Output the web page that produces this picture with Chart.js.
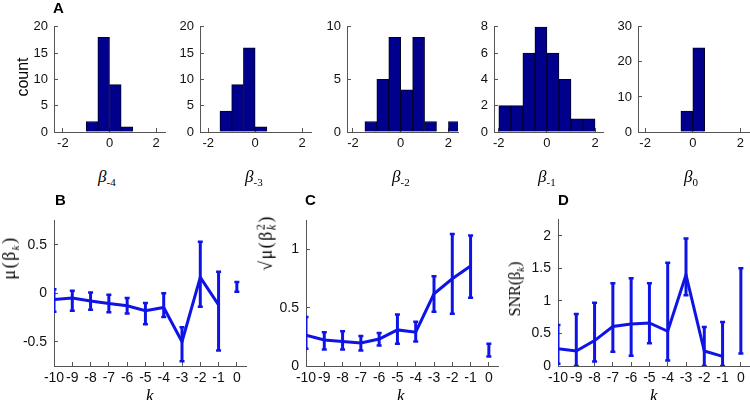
<!DOCTYPE html>
<html>
<head>
<meta charset="utf-8">
<script src="https://cdn.jsdelivr.net/npm/chart.js@4.4.0/dist/chart.umd.min.js"></script>
<style>
  body { margin: 0; width: 750px; height: 400px; overflow: hidden; position: relative; background: #fff; }
  canvas { position: absolute; }
  .lbl { position: absolute; white-space: nowrap; color: #000; line-height: 1; z-index: 2; }
  .tag { font: bold 15px Arial, "Liberation Sans", sans-serif; }
  .serif { font-family: "Times New Roman", "Liberation Serif", serif; font-size: 17px; }
  .wide { font-size: 18px; letter-spacing: 1.5px; }
  .rot { transform: translate(-50%, -50%) rotate(-90deg); }
  .sb { font-size: 11px; position: relative; top: 4px; }
  .ss { display: inline-block; vertical-align: middle; font-size: 12px; line-height: 0.95; text-align: left; }
</style>
</head>
<body>
<div class="lbl tag" style="left:53px; top:-1px;">A</div>
<div class="lbl tag" style="left:55px; top:191px;">B</div>
<div class="lbl tag" style="left:305px; top:191px;">C</div>
<div class="lbl tag" style="left:558px; top:191px;">D</div>

<div class="lbl rot" style="left:23px; top:77px; font:16px Arial, 'Liberation Sans', sans-serif;">count</div>
<div class="lbl rot serif wide" style="left:9px; top:258px;">&mu;(&beta;<span class="sb"><i>k</i></span>)</div>
<div class="lbl rot serif wide" style="left:267px; top:243px;">&radic;&mu;(&beta;<span class="ss">2<br><i>k</i></span>)</div>
<div class="lbl rot serif" style="left:515px; top:289px; font-size:16px;">SNR(&beta;<span class="sb"><i>k</i></span>)</div>

<div class="lbl serif" style="left:98px; top:168px;"><i>&beta;</i><span class="sb">-4</span></div>
<div class="lbl serif" style="left:245px; top:168px;"><i>&beta;</i><span class="sb">-3</span></div>
<div class="lbl serif" style="left:392px; top:168px;"><i>&beta;</i><span class="sb">-2</span></div>
<div class="lbl serif" style="left:538px; top:168px;"><i>&beta;</i><span class="sb">-1</span></div>
<div class="lbl serif" style="left:684px; top:168px;"><i>&beta;</i><span class="sb">0</span></div>

<div class="lbl serif" style="left:146px; top:387px;"><i>k</i></div>
<div class="lbl serif" style="left:397px; top:387px;"><i>k</i></div>
<div class="lbl serif" style="left:650px; top:387px;"><i>k</i></div>

<script>
// Panel A: histogram bin centres and counts
const binsBm4 = [-0.75, -0.25, 0.25, 0.75];
const countsBm4 = [2, 18, 9, 1];
const binsBm3 = [-1.25, -0.75, -0.25, 0.25];
const countsBm3 = [4, 9, 16, 1];
const binsBm2 = [-1.25, -0.75, -0.25, 0.25, 0.75, 1.25, 1.75, 2.25];
const countsBm2 = [1, 5, 9, 4, 9, 1, 0, 1];
const binsBm1 = [-1.75, -1.25, -0.75, -0.25, 0.25, 0.75, 1.25, 1.75];
const countsBm1 = [2, 2, 6, 8, 6, 4, 1, 1];
const binsB0 = [-0.25, 0.25];
const countsB0 = [6, 24];
const histTicks = [-2, 0, 2];

// Panels B-D: lag k, mean and error bar ends
const kLags = [-10, -9, -8, -7, -6, -5, -4, -3, -2, -1, 0];
const muMean = [-0.065, -0.05, -0.08, -0.105, -0.13, -0.18, -0.147, -0.50, 0.163, -0.12, null];
const muLow = [-0.19, -0.18, -0.17, -0.196, -0.21, -0.32, -0.245, -0.70, -0.14, -0.59, 0.016];
const muHigh = [0.04, 0.026, 0.007, -0.016, -0.05, -0.10, 0.0, -0.35, 0.53, 0.22, 0.115];
const rmsMean = [0.265, 0.224, 0.21, 0.197, 0.232, 0.31, 0.29, 0.62, 0.749, 0.858, null];
const rmsLow = [0.148, 0.142, 0.142, 0.134, 0.175, 0.19, 0.21, 0.465, 0.448, 0.585, 0.082];
const rmsHigh = [0.42, 0.29, 0.298, 0.257, 0.284, 0.443, 0.38, 0.77, 1.134, 1.12, 0.19];
const snrMean = [0.264, 0.23, 0.39, 0.606, 0.645, 0.66, 0.533, 1.40, 0.23, 0.147, null];
const snrLow = [0.034, 0, 0.068, 0.22, 0.156, 0.35, 0.083, 1.086, 0, 0, 0.19];
const snrHigh = [0.63, 0.80, 0.97, 1.27, 1.345, 1.27, 1.585, 1.956, 0.597, 0.675, 1.5];
const muTicks = [-0.5, 0, 0.5];
const rmsTicks = [0, 0.5, 1];
const snrTicks = [0, 0.5, 1, 1.5, 2];

const tickFont = 'Arial, "Liberation Sans", sans-serif';
const barBlue = 'rgb(0,0,140)';
const lineBlue = 'rgb(15,20,230)';

function addCanvas(area, pad) {
    const c = document.createElement('canvas');
    c.width = area.r - area.l + pad.l + pad.r;
    c.height = area.b - area.t + pad.t + pad.b;
    c.style.left = (area.l - pad.l) + 'px';
    c.style.top = (area.t - pad.t) + 'px';
    document.body.appendChild(c);
    return c;
}

// shared look of an axis: box off, short ticks pointing inwards
function axis(fontSize, padding, tickList, extra) {
    return Object.assign({
        type: 'linear',
        offset: false,
        grid: { display: true, offset: false, drawOnChartArea: false, drawTicks: true, tickLength: -4, color: '#555', lineWidth: 1 },
        border: { display: true, color: '#555', width: 1 },
        ticks: {
            color: '#111', padding: padding, autoSkip: false, maxRotation: 0, minRotation: 0,
            font: { family: tickFont, size: fontSize },
            callback: v => String(v)
        },
        afterBuildTicks: s => { s.ticks = tickList.map(v => ({ value: v })); }
    }, extra);
}

function histPanel(area, xMin, xMax, bins, counts, yMax, yTicks) {
    const pad = { l: 40, t: 12, r: 14, b: 26 };
    const canvas = addCanvas(area, pad);
    new Chart(canvas, {
        type: 'bar',
        data: {
            datasets: [{
                data: bins.map((b, i) => ({ x: b, y: counts[i] })),
                backgroundColor: barBlue,
                borderColor: 'rgb(0,0,40)',
                borderWidth: 1,
                barPercentage: 1,
                categoryPercentage: 1
            }]
        },
        options: {
            responsive: false,
            animation: false,
            layout: { padding: { top: pad.t, right: pad.r, left: 0, bottom: 0 } },
            plugins: { legend: { display: false }, tooltip: { enabled: false } },
            scales: {
                x: axis(13, 8, histTicks, { min: xMin, max: xMax, afterFit: s => { s.height = pad.b; } }),
                y: axis(13, 10, yTicks, { min: 0, max: yMax, afterFit: s => { s.width = pad.l; } })
            }
        }
    });
}

function lagPanel(area, yMin, yMax, yTicks, mean, low, high) {
    const pad = { l: 42, t: 12, r: 14, b: 30 };
    const canvas = addCanvas(area, pad);
    const bars = [];
    kLags.forEach((k, i) => { bars.push({ x: k, y: low[i] }, { x: k, y: high[i] }, { x: k, y: null }); });
    const caps = [];
    kLags.forEach((k, i) => { caps.push({ x: k, y: low[i] }, { x: k, y: high[i] }); });
    new Chart(canvas, {
        type: 'scatter',
        data: {
            datasets: [
                {
                    data: kLags.map((k, i) => ({ x: k, y: mean[i] })),
                    showLine: true, borderColor: lineBlue, borderWidth: 3, pointRadius: 0, spanGaps: false
                },
                {
                    data: bars,
                    showLine: true, borderColor: lineBlue, borderWidth: 3, pointRadius: 0, spanGaps: false
                },
                {
                    data: caps,
                    showLine: false, pointStyle: 'line', pointRadius: 2.5, borderColor: lineBlue, borderWidth: 2.5
                }
            ]
        },
        options: {
            responsive: false,
            animation: false,
            layout: { padding: { top: pad.t, right: pad.r, left: 0, bottom: 0 } },
            plugins: { legend: { display: false }, tooltip: { enabled: false } },
            scales: {
                x: axis(14, 8, kLags, { min: -10, max: 0.5, afterFit: s => { s.height = pad.b; } }),
                y: axis(14, 11, yTicks, { min: yMin, max: yMax, afterFit: s => { s.width = pad.l; } })
            }
        }
    });
}

// top row, histograms
histPanel({ l: 54, t: 21, r: 165, b: 132 }, -2.38, 2.38, binsBm4, countsBm4, 20, [0, 5, 10, 15, 20]);
histPanel({ l: 200, t: 21, r: 311, b: 132 }, -2.35, 2.38, binsBm3, countsBm3, 20, [0, 5, 10, 15, 20]);
histPanel({ l: 347, t: 21, r: 458, b: 132 }, -2.25, 2.4, binsBm2, countsBm2, 10, [0, 5, 10]);
histPanel({ l: 494, t: 21, r: 603, b: 132 }, -2.2, 2.33, binsBm1, countsBm1, 8, [0, 2, 4, 6, 8]);
histPanel({ l: 638, t: 21, r: 750, b: 132 }, -2.3, 2.4, binsB0, countsB0, 30, [0, 10, 20, 30]);

// bottom row, statistics against lag
lagPanel({ l: 54, t: 213, r: 246, b: 366 }, -0.75, 0.75, muTicks, muMean, muLow, muHigh);
lagPanel({ l: 306, t: 213, r: 498, b: 366 }, 0, 1.25, rmsTicks, rmsMean, rmsLow, rmsHigh);
lagPanel({ l: 558, t: 212, r: 750, b: 366 }, 0, 2.25, snrTicks, snrMean, snrLow, snrHigh);
</script>
</body>
</html>
